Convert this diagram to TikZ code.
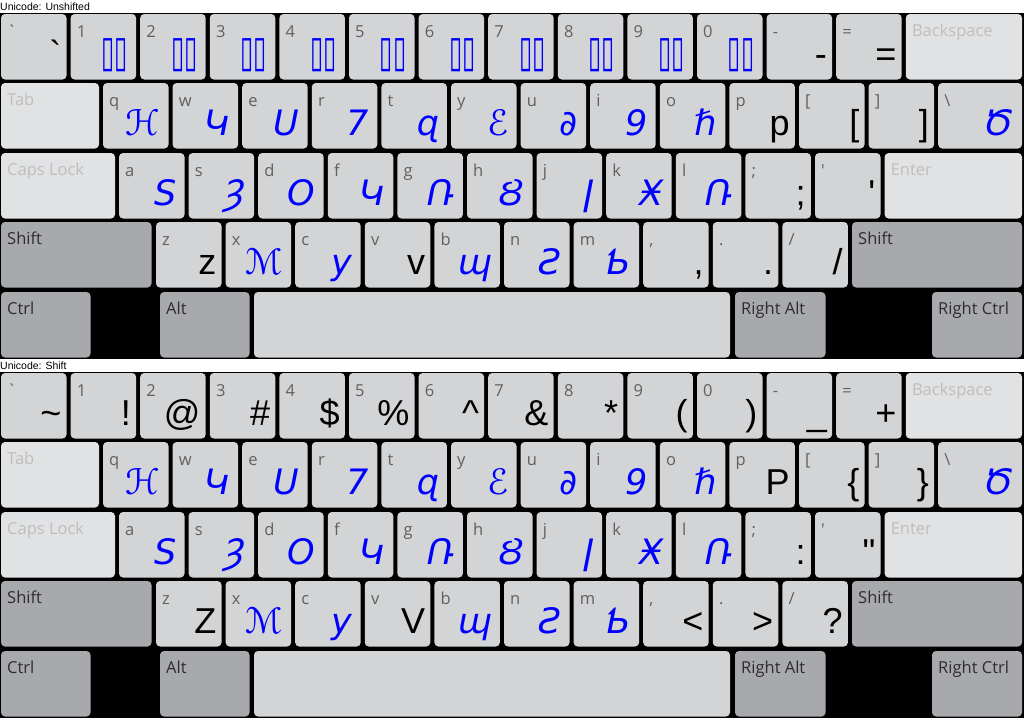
\documentclass[tikz,border=0pt]{standalone}
\usepackage{fontspec}
\setmainfont{Liberation Sans}
\newfontfamily\labf{Open Sans}
\newfontfamily\bigf{Liberation Sans}
\newfontfamily\glf{DejaVu Sans}
\definecolor{kg}{RGB}{211,212,214}
\definecolor{kl}{RGB}{225,226,228}
\definecolor{kd}{RGB}{168,169,172}
\definecolor{lg}{RGB}{96,96,96}
\definecolor{lt}{RGB}{190,190,190}
\definecolor{dt}{RGB}{45,45,45}
\definecolor{gb}{RGB}{0,0,255}
\tikzset{
 key/.style={rectangle, fill=kg, rounded corners=4pt, inner sep=0pt, outer sep=0pt, minimum height=65.5pt},
 light/.style={key, fill=kl},
 dark/.style={key, fill=kd},
 lab/.style={inner sep=0pt, font=\labf\fontsize{16.5}{20}\selectfont, text=lg},
 lightT/.style={lab, text=lt},
 darkT/.style={lab, text=dt},
 keyT/.style={lab},
 big/.style={inner sep=0pt, font=\bigf\fontsize{36}{40}\selectfont, text=black},
 glyph/.style={inner sep=0pt, font=\glf\itshape\fontsize{35}{38}\selectfont, text=gb},
 tofu/.style={inner sep=0pt, font=\glf\fontsize{30}{34}\selectfont, text=gb},
 title/.style={inner sep=0pt, font=\bigf\fontsize{10.5}{13}\selectfont, anchor=base west, text=black}
}
\newcommand\X[8]{%
 \node[key, minimum width=#3, anchor=north west] (#1) at (#2,#4) {};
 \node[lab, anchor=base west] (#1-l) at ([xshift=6pt,yshift=-23pt]#1.north west) {#5};
 \node[#6, anchor=base east] (#1-b) at ([xshift=#8,yshift=-52pt]#1.north east) {#7};}
\newcommand\K[5]{\X{#1}{#2}{65.5}{#3}{#4}{big}{#5}{-5pt}}
\newcommand\G[5]{\X{#1}{#2}{65.5}{#3}{#4}{glyph}{#5}{-8pt}}
\newcommand\Tf[4]{\X{#1}{#2}{65.5}{#3}{#4}{tofu}{\scalebox{0.8}[1.45]{▯▯}}{-8pt}}
\newcommand\W[6]{%
 \node[#5, minimum width={#3-#2}, anchor=north west] (#1) at (#2,#4) {};
 \node[#5T, anchor=base west] (#1-l) at ([xshift=6pt,yshift=-22pt]#1.north west) {#6};}
\begin{document}
\begin{tikzpicture}[x=1pt,y=-1pt]
\useasboundingbox (0,0) rectangle (1024,720);
\fill[white] (0,0) rectangle (1024,720);
\fill[black] (0,13) rectangle (1024,359);
\fill[black] (0,372) rectangle (1024,718);
\node[title] (t1) at (0,10) {Unicode: Unshifted};
\node[title] (t2) at (0,369) {Unicode: Shift};
% ===== board 1 =====
\def\RA{14}\def\RB{83}\def\RC{153}\def\RD{222}\def\RE{292}
\K{a0}{1}{\RA}{\textasciigrave}{\textasciigrave}
\Tf{a1}{70.6}{\RA}{1}
\Tf{a2}{140.2}{\RA}{2}
\Tf{a3}{209.8}{\RA}{3}
\Tf{a4}{279.4}{\RA}{4}
\Tf{a5}{349}{\RA}{5}
\Tf{a6}{418.6}{\RA}{6}
\Tf{a7}{488.2}{\RA}{7}
\Tf{a8}{557.8}{\RA}{8}
\Tf{a9}{627.4}{\RA}{9}
\Tf{a10}{697}{\RA}{0}
\K{a11}{766.6}{\RA}{-}{-}
\K{a12}{836.2}{\RA}{=}{=}
\W{abk}{905.8}{1022}{\RA}{light}{Backspace}
\W{atab}{1}{99}{\RB}{light}{Tab}
\G{aq}{103}{\RB}{q}{ℋ}
\G{aw}{172.6}{\RB}{w}{Կ}
\G{ae}{242.2}{\RB}{e}{U}
\G{ar}{311.8}{\RB}{r}{7}
\G{at}{381.4}{\RB}{t}{ɋ}
\G{ay}{451}{\RB}{y}{ℰ}
\G{au}{520.6}{\RB}{u}{∂}
\G{ai}{590.2}{\RB}{i}{9}
\G{ao}{659.8}{\RB}{o}{ℏ}
\K{ap}{729.4}{\RB}{p}{p}
\K{alb}{799}{\RB}{[}{[}
\K{arb}{868.6}{\RB}{]}{]}
\X{abs}{938.2}{83.8}{\RB}{\textbackslash}{glyph}{Ծ}{-8pt}
\W{acaps}{1}{115}{\RC}{light}{Caps Lock}
\G{aa}{119}{\RC}{a}{S}
\G{as}{188.6}{\RC}{s}{Ȝ}
\G{ad}{258.2}{\RC}{d}{O}
\G{af}{327.8}{\RC}{f}{Կ}
\G{ag}{397.4}{\RC}{g}{Ռ}
\G{ah}{467}{\RC}{h}{Ȣ}
\G{aj}{536.6}{\RC}{j}{ǀ}
\G{ak}{606.2}{\RC}{k}{Ӿ}
\G{al}{675.8}{\RC}{l}{Ռ}
\K{asc}{745.4}{\RC}{;}{;}
\K{aqt}{815}{\RC}{\textquotesingle}{\textquotesingle}
\W{aent}{884.6}{1022}{\RC}{light}{Enter}
\W{alsh}{1}{151.5}{\RD}{dark}{Shift}
\K{az}{156}{\RD}{z}{z}
\G{ax}{225.6}{\RD}{x}{ℳ}
\G{ac}{295.2}{\RD}{c}{y}
\K{av}{364.8}{\RD}{v}{v}
\G{ab}{434.4}{\RD}{b}{ɰ}
\G{an}{504}{\RD}{n}{Ƨ}
\G{am}{573.6}{\RD}{m}{Ƅ}
\K{acm}{643.2}{\RD}{,}{,}
\K{adt}{712.8}{\RD}{.}{.}
\K{asl}{782.4}{\RD}{/}{/}
\W{arsh}{852}{1022}{\RD}{dark}{Shift}
\W{actl}{1}{90.5}{\RE}{dark}{Ctrl}
\W{aalt}{160}{249.5}{\RE}{dark}{Alt}
\W{aspc}{254}{730}{\RE}{key}{}
\W{aral}{735}{825.5}{\RE}{dark}{Right Alt}
\W{arct}{932}{1022}{\RE}{dark}{Right Ctrl}
% ===== board 2 =====
\def\RA{373}\def\RB{442}\def\RC{512}\def\RD{581}\def\RE{651}
\K{b0}{1}{\RA}{\textasciigrave}{\textasciitilde}
\K{b1}{70.6}{\RA}{1}{!}
\K{b2}{140.2}{\RA}{2}{@}
\K{b3}{209.8}{\RA}{3}{\#}
\K{b4}{279.4}{\RA}{4}{\$}
\K{b5}{349}{\RA}{5}{\%}
\K{b6}{418.6}{\RA}{6}{\textasciicircum}
\K{b7}{488.2}{\RA}{7}{\&}
\K{b8}{557.8}{\RA}{8}{*}
\K{b9}{627.4}{\RA}{9}{(}
\K{b10}{697}{\RA}{0}{)}
\K{b11}{766.6}{\RA}{-}{\_}
\K{b12}{836.2}{\RA}{=}{+}
\W{bbk}{905.8}{1022}{\RA}{light}{Backspace}
\W{btab}{1}{99}{\RB}{light}{Tab}
\G{bq}{103}{\RB}{q}{ℋ}
\G{bw}{172.6}{\RB}{w}{Կ}
\G{be}{242.2}{\RB}{e}{U}
\G{br}{311.8}{\RB}{r}{7}
\G{bt}{381.4}{\RB}{t}{ɋ}
\G{by}{451}{\RB}{y}{ℰ}
\G{bu}{520.6}{\RB}{u}{∂}
\G{bi}{590.2}{\RB}{i}{9}
\G{bo}{659.8}{\RB}{o}{ℏ}
\K{bp}{729.4}{\RB}{p}{P}
\K{blb}{799}{\RB}{[}{\{}
\K{brb}{868.6}{\RB}{]}{\}}
\X{bbs}{938.2}{83.8}{\RB}{\textbackslash}{glyph}{Ծ}{-8pt}
\W{bcaps}{1}{115}{\RC}{light}{Caps Lock}
\G{ba}{119}{\RC}{a}{S}
\G{bs}{188.6}{\RC}{s}{Ȝ}
\G{bd}{258.2}{\RC}{d}{O}
\G{bf}{327.8}{\RC}{f}{Կ}
\G{bg}{397.4}{\RC}{g}{Ռ}
\G{bh}{467}{\RC}{h}{Ȣ}
\G{bj}{536.6}{\RC}{j}{ǀ}
\G{bk}{606.2}{\RC}{k}{Ӿ}
\G{bl}{675.8}{\RC}{l}{Ռ}
\K{bsc}{745.4}{\RC}{;}{:}
\K{bqt}{815}{\RC}{\textquotesingle}{\textquotedbl}
\W{bent}{884.6}{1022}{\RC}{light}{Enter}
\W{blsh}{1}{151.5}{\RD}{dark}{Shift}
\K{bz}{156}{\RD}{z}{Z}
\G{bx}{225.6}{\RD}{x}{ℳ}
\G{bc}{295.2}{\RD}{c}{y}
\K{bv}{364.8}{\RD}{v}{V}
\G{bb}{434.4}{\RD}{b}{ɰ}
\G{bn}{504}{\RD}{n}{Ƨ}
\G{bm}{573.6}{\RD}{m}{Ƅ}
\K{bcm}{643.2}{\RD}{,}{<}
\K{bdt}{712.8}{\RD}{.}{>}
\K{bsl}{782.4}{\RD}{/}{?}
\W{brsh}{852}{1022}{\RD}{dark}{Shift}
\W{bctl}{1}{90.5}{\RE}{dark}{Ctrl}
\W{balt}{160}{249.5}{\RE}{dark}{Alt}
\W{bspc}{254}{730}{\RE}{key}{}
\W{bral}{735}{825.5}{\RE}{dark}{Right Alt}
\W{brct}{932}{1022}{\RE}{dark}{Right Ctrl}
\end{tikzpicture}
\end{document}
